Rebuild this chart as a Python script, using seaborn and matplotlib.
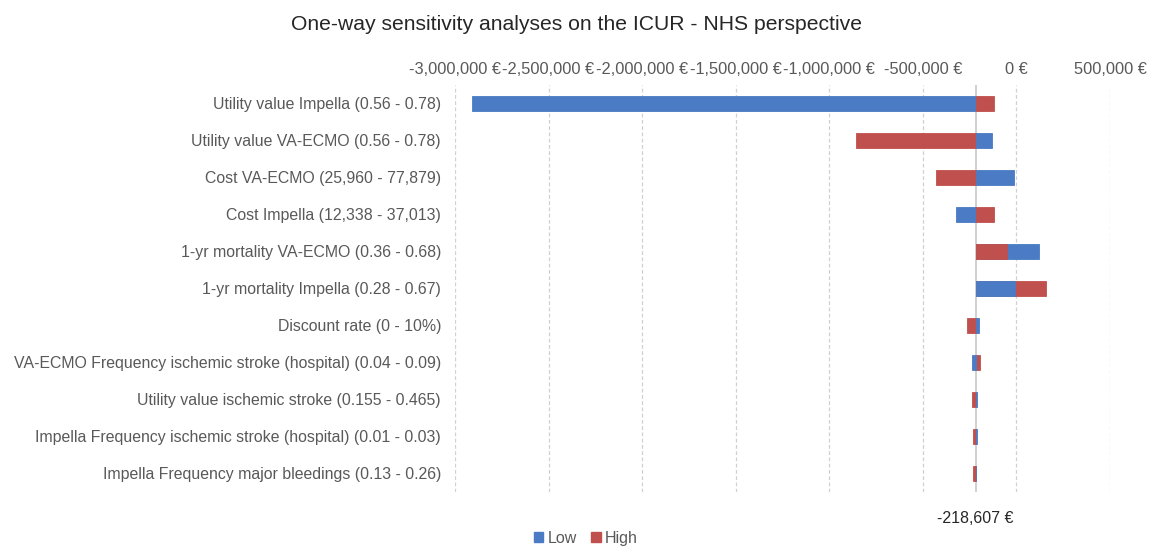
import matplotlib
matplotlib.use("Agg")
import matplotlib.pyplot as plt
import matplotlib.ticker as mticker
from matplotlib.patches import Patch
import pandas as pd
import seaborn as sns

base = -218607

parameters = [
    "Utility value Impella (0.56 - 0.78)",
    "Utility value VA-ECMO (0.56 - 0.78)",
    "Cost VA-ECMO (25,960 - 77,879)",
    "Cost Impella (12,338 - 37,013)",
    "1-yr mortality VA-ECMO (0.36 - 0.68)",
    "1-yr mortality Impella (0.28 - 0.67)",
    "Discount rate (0 - 10%)",
    "VA-ECMO Frequency ischemic stroke (hospital) (0.04 - 0.09)",
    "Utility value ischemic stroke (0.155 - 0.465)",
    "Impella Frequency ischemic stroke (hospital) (0.01 - 0.03)",
    "Impella Frequency major bleedings (0.13 - 0.26)",
]
low = [-2909000, -132000, -12000, -324000, 121500, -9600,
       -202600, -240000, -208000, -208000, -217000]
high = [-120000, -857000, -431000, -120000, -52000, 159000,
        -263000, -195000, -240000, -232000, -230000]

df = pd.DataFrame({"parameter": parameters, "low": low, "high": high})
df["low_d"] = df["low"] - base
df["high_d"] = df["high"] - base

blue = "#4a7bc4"
red = "#c0504d"
grey_txt = "#595959"

sns.set_theme(style="white")
plt.rcParams["font.family"] = ["Liberation Sans", "DejaVu Sans"]

fig = plt.figure(figsize=(11.53, 5.48), dpi=100)
ax = fig.add_axes([0.3946, 0.1022, 0.9627 - 0.3946, 0.8449 - 0.1022])

sns.barplot(data=df, y="parameter", x="low_d", orient="h", color=blue,
            saturation=1, width=0.38, left=base, ax=ax, edgecolor=blue, linewidth=0.6)
sns.barplot(data=df, y="parameter", x="high_d", orient="h", color=red,
            saturation=1, width=0.38, left=base, ax=ax, edgecolor=red, linewidth=0.6)

# shorter bar of each row sits in front
for pl, ph in zip(ax.containers[0], ax.containers[1]):
    if abs(pl.get_width()) < abs(ph.get_width()):
        pl.set_zorder(3); ph.set_zorder(2)
    else:
        pl.set_zorder(2); ph.set_zorder(3)

ax.set_xlim(-3000000, 500000)
ax.set_ylim(10.5, -0.5)
ax.xaxis.set_major_locator(mticker.MultipleLocator(500000))
ax.xaxis.set_major_formatter(mticker.FuncFormatter(lambda v, p: f"{v:,.0f} €"))
ax.xaxis.tick_top()
ax.tick_params(axis="x", length=0, pad=6, labelsize=11.8, colors=grey_txt)
ax.tick_params(axis="y", length=0, pad=10, labelsize=11.4, colors=grey_txt)
ax.grid(axis="x", color="#d0d0d0", linestyle=(0, (3, 2)), linewidth=0.9)
ax.set_axisbelow(True)
for s in ax.spines.values():
    s.set_visible(False)
ax.set_xlabel("")
ax.set_ylabel("")

ax.axvline(base, color="#c8c8c8", linewidth=1.2, zorder=1)
ax.text(base, -0.065, f"{base:,.0f} €", transform=ax.get_xaxis_transform(),
        ha="center", va="center", fontsize=11.5, color="#262626")

fig.suptitle("One-way sensitivity analyses on the ICUR - NHS perspective",
             x=0.5, y=0.972, fontsize=15.2, color="#262626")

handles = [Patch(color=blue, label="Low"), Patch(color=red, label="High")]
fig.legend(handles=handles, loc="center", bbox_to_anchor=(0.508, 0.018), ncol=2,
           frameon=False, fontsize=11.5, handlelength=0.6, handleheight=0.6,
           handletextpad=0.25, columnspacing=0.9, labelcolor=grey_txt)

fig.savefig("out.png", dpi=100)
